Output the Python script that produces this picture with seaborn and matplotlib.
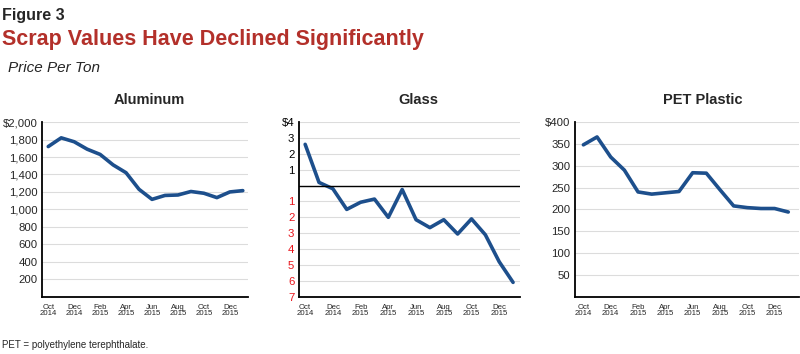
import numpy as np
import pandas as pd
import matplotlib
matplotlib.use("Agg")
import matplotlib.pyplot as plt
import seaborn as sns

# ---- data ----
months = ["Oct\n2014", "Nov\n2014", "Dec\n2014", "Jan\n2015", "Feb\n2015", "Mar\n2015",
          "Apr\n2015", "May\n2015", "Jun\n2015", "Jul\n2015", "Aug\n2015", "Sep\n2015",
          "Oct\n2015", "Nov\n2015", "Dec\n2015", "Jan\n2016"]
aluminum = [1720, 1820, 1775, 1690, 1630, 1510, 1420, 1230, 1115, 1160, 1165, 1205,
            1185, 1135, 1200, 1215]
glass = [2.6, 0.2, -0.2, -1.5, -1.05, -0.85, -2.0, -0.25, -2.15, -2.65, -2.15, -3.05,
         -2.1, -3.1, -4.8, -6.1]
pet = [348, 366, 320, 290, 240, 235, 238, 241, 284, 283, 245, 208, 204, 202, 202, 194]

df = pd.DataFrame({"idx": np.arange(len(months)), "Aluminum": aluminum,
                   "Glass": glass, "PET Plastic": pet})

sns.set_theme(style="white")
plt.rcParams['font.family'] = ['Liberation Sans', 'DejaVu Sans']

LINE = "#1d4f8c"
RED = "#b3302a"

fig = plt.figure(figsize=(8, 3.54), dpi=100)

fig.text(0.002, 0.978, "Figure 3", fontsize=11.5, fontweight="bold", va="top")
fig.text(0.002, 0.918, "Scrap Values Have Declined Significantly", fontsize=15.5,
         fontweight="bold", color=RED, va="top")
fig.text(0.01, 0.828, "Price Per Ton", fontsize=11, style="italic", va="top")
fig.text(0.002, 0.012, "PET = polyethylene terephthalate.", fontsize=7, va="bottom")


def style_axis(ax, yticks, ylabels, ylim, xlim, title, title_x):
    ax.set_xlim(*xlim)
    ax.set_ylim(*ylim)
    ax.set_yticks(yticks)
    ax.set_yticklabels(ylabels, fontsize=8.2)
    ax.set_xticks(df["idx"])
    ax.set_xticklabels([m if i % 2 == 0 else "" for i, m in enumerate(months)],
                       fontsize=5.6, linespacing=0.95)
    ax.grid(axis="y", color="#dcdcdc", lw=0.8)
    ax.set_axisbelow(True)
    for s in ["top", "right"]:
        ax.spines[s].set_visible(False)
    for s in ["left", "bottom"]:
        ax.spines[s].set_color("black")
        ax.spines[s].set_linewidth(1.3)
    ax.tick_params(axis="x", direction="out", length=3.5, width=1, color="black", pad=1.5)
    ax.tick_params(axis="y", direction="out", length=2, width=0.8, color="black", pad=1.5)
    ax.set_xlabel("")
    ax.set_ylabel("")
    ax.text(title_x, 1.125, title, transform=ax.transAxes, ha="center", va="center",
            fontsize=10.5, fontweight="bold")


# Aluminum
ax1 = fig.add_axes([0.053, 0.162, 0.257, 0.493])
sns.lineplot(data=df, x="idx", y="Aluminum", ax=ax1, color=LINE, lw=2.6)
al_ticks = list(range(0, 2001, 200))
al_labels = [""] + [f"{v:,}" for v in al_ticks[1:-1]] + ["$2,000"]
style_axis(ax1, al_ticks, al_labels, (0, 2000), (-0.45, 15.4), "Aluminum", 0.52)

# Glass
ax2 = fig.add_axes([0.374, 0.162, 0.276, 0.493])
sns.lineplot(data=df, x="idx", y="Glass", ax=ax2, color=LINE, lw=2.6)
gl_ticks = list(range(-7, 5))
gl_labels = [str(abs(v)) if v != 0 else "" for v in gl_ticks]
gl_labels[-1] = "$4"
style_axis(ax2, gl_ticks, gl_labels, (-7, 4), (-0.43, 15.5), "Glass", 0.54)
ax2.axhline(0, color="black", lw=1.0)
for lab, v in zip(ax2.get_yticklabels(), gl_ticks):
    lab.set_color("#e8141b" if v < 0 else "black")

# PET Plastic
ax3 = fig.add_axes([0.719, 0.162, 0.28, 0.493])
sns.lineplot(data=df, x="idx", y="PET Plastic", ax=ax3, color=LINE, lw=2.6)
pet_ticks = list(range(0, 401, 50))
pet_labels = [""] + [str(v) for v in pet_ticks[1:-1]] + ["$400"]
style_axis(ax3, pet_ticks, pet_labels, (0, 400), (-0.6, 15.8), "PET Plastic", 0.57)

fig.savefig("out.png", dpi=100)
